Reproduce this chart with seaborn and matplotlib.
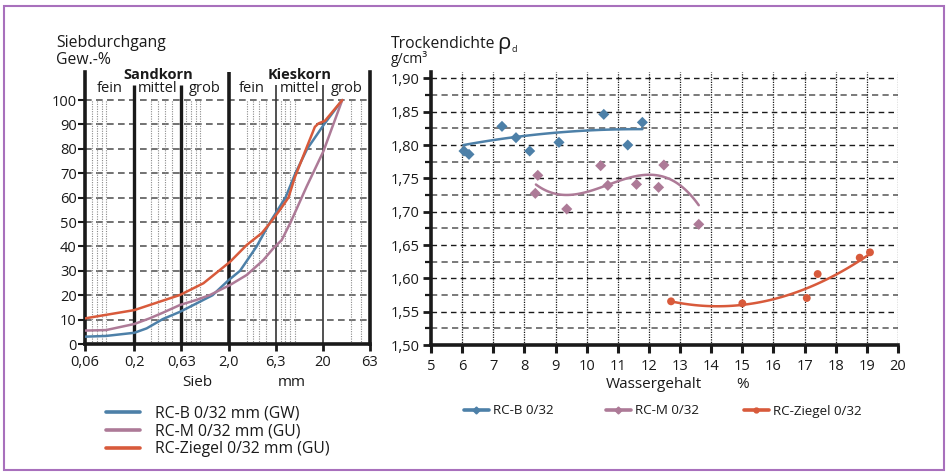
import numpy as np
import pandas as pd
import matplotlib
matplotlib.use("Agg")
import matplotlib.pyplot as plt
from matplotlib.lines import Line2D
from matplotlib.patches import Rectangle
from matplotlib.ticker import NullLocator, FixedLocator
import seaborn as sns

# ---------------- data: sieve curves (left) ----------------
rcb_sieve_x = [0.06, 0.1, 0.2, 0.27, 0.4, 0.61, 0.92, 1.35, 2.0, 2.64, 3.96, 5.5, 8.0, 10.2, 13.6, 20.5, 32]
rcb_sieve_y = [3.0, 3.3, 4.6, 6.4, 10.2, 13.2, 16.7, 20.0, 26.2, 30.0, 40.0, 50.0, 60.0, 70.0, 80.0, 90.0, 100]
rcm_sieve_x = [0.06, 0.1, 0.2, 0.29, 0.4, 0.61, 0.9, 1.27, 2.07, 3.11, 4.66, 5.94, 7.3, 9.1, 13.4, 20.2, 32]
rcm_sieve_y = [5.5, 5.7, 8.2, 10.5, 12.8, 16.0, 18.0, 20.1, 24.2, 28.3, 34.4, 39.2, 42.6, 50.0, 64.5, 79.0, 100]
rcz_sieve_x = [0.06, 0.2, 0.61, 1.08, 2.07, 3.11, 4.5, 5.6, 7.0, 8.6, 10.1, 13.4, 16.4, 17.9, 21, 32]
rcz_sieve_y = [10.5, 13.9, 20.1, 24.9, 33.7, 40.6, 45.5, 50.0, 55.0, 60.0, 68.5, 80.5, 89.0, 90.4, 91.5, 100]

sieve_ticks = [0.06, 0.2, 0.63, 2.0, 6.3, 20, 63]
sieve_tick_labels = ["0,06", "0,2", "0,63", "2,0", "6,3", "20", "63"]
minor_sieves = [0.071, 0.08, 0.09, 0.1, 0.3, 0.36, 0.42, 0.5, 0.71, 0.8, 0.9, 1.0,
                3.15, 3.6, 4.2, 5.0, 7.1, 8.0, 9.0, 10.0, 40, 50]
sieve_labels = ["RC-B 0/32 mm (GW)", "RC-M 0/32 mm (GU)", "RC-Ziegel 0/32 mm (GU)"]

# ---------------- data: Proctor (right) ----------------
rcb_w = [6.06, 6.22, 7.28, 7.73, 8.17, 9.11, 10.55, 11.32, 11.79]
rcb_rho = [1.791, 1.786, 1.828, 1.811, 1.791, 1.804, 1.846, 1.800, 1.834]
rcm_w = [8.35, 8.43, 9.36, 10.45, 10.68, 11.60, 12.31, 12.48, 13.60]
rcm_rho = [1.7275, 1.7545, 1.704, 1.769, 1.7395, 1.741, 1.7365, 1.770, 1.681]
rcz_w = [12.71, 15.0, 17.07, 17.42, 18.77, 19.1]
rcz_rho = [1.5655, 1.5625, 1.5705, 1.6065, 1.631, 1.639]

# trend lines
rcb_trend_w = [6.04, 7.0, 7.73, 8.72, 9.79, 10.8, 11.79]
rcb_trend_rho = [1.800, 1.807, 1.8125, 1.8175, 1.821, 1.823, 1.824]
rcm_trend_w = [8.37, 9.3, 10.33, 10.86, 11.71, 12.03, 12.78, 13.21, 13.6]
rcm_trend_rho = [1.741, 1.725, 1.7325, 1.745, 1.755, 1.756, 1.745, 1.730, 1.711]
rcz_trend_w = [12.71, 14.18, 15.0, 17.07, 18.0, 19.1]
rcz_trend_rho = [1.5655, 1.5575, 1.561, 1.585, 1.605, 1.637]

proctor_labels = ["RC-B 0/32", "RC-M 0/32", "RC-Ziegel 0/32"]

c_b = "#4d80a8"
c_m = "#ad7a97"
c_z = "#d85a3b"
colors = [c_b, c_m, c_z]

sns.set_theme(style="white")
plt.rcParams["font.family"] = ["Open Sans", "DejaVu Sans"]
plt.rcParams["text.color"] = "#1a1a1a"
plt.rcParams["xtick.color"] = "#1a1a1a"
plt.rcParams["ytick.color"] = "#1a1a1a"

W, H = 948, 475
fig = plt.figure(figsize=(W / 100, H / 100), dpi=100)


def rect(x0, y0, x1, y1):
    return [x0 / W, 1 - y1 / H, (x1 - x0) / W, (y1 - y0) / H]


def fx(x):
    return x / W


def fy(y):
    return 1 - y / H


# ======================= left chart ==========================
ax1 = fig.add_axes(rect(85, 72, 370, 344))
ax1.set_xscale("log")
ax1.set_xlim(0.06, 63)
ax1.set_ylim(0, 111.5)

for v in range(10, 101, 10):
    ax1.plot([0.06, 63], [v, v], color="#5a5a5a", lw=1.2, ls=(0, (4, 2.6)), zorder=1)
ax1.vlines(minor_sieves, 0, 100, colors="#8a8a8a", lw=0.8, linestyles=(0, (1, 1.2)), zorder=1)
ax1.vlines([0.2, 0.63], 0, 106.3, colors="#1a1a1a", lw=2.4, zorder=2)
ax1.vlines([2.0], 0, 111.5, colors="#1a1a1a", lw=2.6, zorder=2)
ax1.vlines([6.3, 20], 0, 106.3, colors="#333333", lw=1.2, zorder=2)

sieve_df = pd.concat([
    pd.DataFrame({"d": rcb_sieve_x, "p": rcb_sieve_y, "s": sieve_labels[0]}),
    pd.DataFrame({"d": rcm_sieve_x, "p": rcm_sieve_y, "s": sieve_labels[1]}),
    pd.DataFrame({"d": rcz_sieve_x, "p": rcz_sieve_y, "s": sieve_labels[2]}),
])
sns.lineplot(data=sieve_df, x="d", y="p", hue="s", palette=colors, hue_order=sieve_labels,
             estimator=None, sort=False, lw=1.8, ax=ax1, legend=False, zorder=3)

for s in ["left", "bottom", "right"]:
    ax1.spines[s].set_linewidth(2.6)
    ax1.spines[s].set_color("#1a1a1a")
ax1.spines["top"].set_visible(False)

ax1.set_xticks(sieve_ticks)
ax1.set_xticklabels(sieve_tick_labels, fontsize=10.5)
ax1.xaxis.set_minor_locator(NullLocator())
ax1.set_yticks(range(0, 101, 10))
ax1.set_yticklabels([str(v) for v in range(0, 101, 10)], fontsize=10.5)
ax1.tick_params(axis="x", length=5, width=2, pad=3, direction="out", bottom=True)
ax1.tick_params(axis="y", length=5, width=1.5, pad=1, direction="out", left=True)
ax1.set_xlabel("")
ax1.set_ylabel("")

for xc, t in [(0.11, "fein"), (0.355, "mittel"), (1.12, "grob"),
              (3.55, "fein"), (11.2, "mittel"), (35.5, "grob")]:
    ax1.text(xc, 104.9, t, ha="center", va="center", fontsize=10.5, clip_on=False)
ax1.text(0.355, 110.2, "Sandkorn", ha="center", va="center", fontsize=10.5, fontweight="bold", clip_on=False)
ax1.text(11.2, 110.2, "Kieskorn", ha="center", va="center", fontsize=10.5, fontweight="bold", clip_on=False)

fig.text(fx(56), fy(43), "Siebdurchgang", fontsize=11.3, va="center", ha="left")
fig.text(fx(56), fy(60), "Gew.-%", fontsize=11.3, va="center", ha="left")
fig.text(fx(197), fy(383), "Sieb", fontsize=11, va="center", ha="center")
fig.text(fx(292), fy(383), "mm", fontsize=11, va="center", ha="center")

h_left = [Line2D([], [], color=c, lw=2.6) for c in colors]
fig.legend(h_left, sieve_labels, loc="upper left", bbox_to_anchor=(fx(106), fy(405.5)),
           frameon=False, borderpad=0, borderaxespad=0, labelspacing=0.12,
           handlelength=2.15, handletextpad=0.95, fontsize=11.3)

# ======================= right chart ==========================
ax2 = fig.add_axes(rect(431, 71.7, 898, 345))
ax2.set_xlim(5, 20)
ax2.set_ylim(1.50, 1.91)

for k in range(1, 17):
    v = 1.50 + 0.025 * k
    if k % 2 == 0:
        ax2.plot([5, 20], [v, v], color="#1a1a1a", lw=1.0, ls=(0, (4, 3)), zorder=1)
    else:
        ax2.plot([5, 20], [v, v], color="#7a7a7a", lw=1.4, ls=(0, (3.2, 2.2)), zorder=1)
ax2.vlines(range(6, 21), 1.50, 1.91, colors="#1a1a1a", lw=0.9, linestyles=(0, (1, 1)), zorder=1)

proc_df = pd.concat([
    pd.DataFrame({"w": rcb_w, "r": rcb_rho, "s": proctor_labels[0]}),
    pd.DataFrame({"w": rcm_w, "r": rcm_rho, "s": proctor_labels[1]}),
    pd.DataFrame({"w": rcz_w, "r": rcz_rho, "s": proctor_labels[2]}),
])
sns.scatterplot(data=proc_df, x="w", y="r", hue="s", style="s", palette=colors,
                hue_order=proctor_labels, style_order=proctor_labels,
                markers={proctor_labels[0]: "D", proctor_labels[1]: "D", proctor_labels[2]: "o"},
                s=32, linewidth=0, ax=ax2, legend=False, zorder=4)

for tw, tr, c, order in [(rcb_trend_w, rcb_trend_rho, c_b, 2),
                         (rcm_trend_w, rcm_trend_rho, c_m, 3),
                         (rcz_trend_w, rcz_trend_rho, c_z, 2)]:
    sns.regplot(x=tw, y=tr, order=order, ci=None, scatter=False, truncate=True,
                line_kws={"color": c, "lw": 1.8, "zorder": 3}, ax=ax2)
ax2.set_xlim(5, 20)
ax2.set_ylim(1.50, 1.91)

for s in ["left", "bottom"]:
    ax2.spines[s].set_linewidth(2.6)
    ax2.spines[s].set_color("#1a1a1a")
ax2.spines["top"].set_visible(False)
ax2.spines["right"].set_visible(False)

ax2.set_xticks(range(5, 21))
ax2.set_xticklabels([str(v) for v in range(5, 21)], fontsize=10.5)
yt = [1.50 + 0.05 * i for i in range(9)]
ax2.set_yticks(yt)
ax2.set_yticklabels([f"{v:.2f}".replace(".", ",") for v in yt], fontsize=10.5)
ax2.yaxis.set_minor_locator(FixedLocator([1.525 + 0.05 * i for i in range(8)]))
ax2.tick_params(axis="x", length=6, width=2.2, pad=4, direction="out", bottom=True)
ax2.tick_params(axis="y", which="major", length=6, width=2, pad=2, direction="out", left=True)
ax2.tick_params(axis="y", which="minor", length=4, width=1.6, direction="out", left=True)
ax2.set_xlabel("")
ax2.set_ylabel("")

fig.text(fx(391), fy(44), "Trockendichte", fontsize=11.3, va="center", ha="left")
fig.text(fx(497), fy(43), "ρ", fontsize=16, va="center", ha="left")
fig.text(fx(512), fy(50), "d", fontsize=6.5, va="center", ha="left")
fig.text(fx(391), fy(59), "g/cm³", fontsize=10, va="center", ha="left")
fig.text(fx(654), fy(384), "Wassergehalt", fontsize=11, va="center", ha="center")
fig.text(fx(743), fy(384), "%", fontsize=11, va="center", ha="center")

for c, lab, x0, mk in zip(colors, proctor_labels, [464, 606, 744], ["D", "D", "o"]):
    h = Line2D([], [], color=c, lw=2.6, marker=mk, markersize=3.5)
    fig.legend([h], [lab], loc="center left", bbox_to_anchor=(fx(x0), fy(411)),
               frameon=False, borderpad=0, borderaxespad=0, handlelength=1.85,
               handletextpad=0.32, fontsize=9.6)

fig.patches.append(Rectangle((fx(4), fy(470)), (944 - 4) / W, (470 - 6) / H,
                             transform=fig.transFigure, fill=False, ec="#a870bc", lw=1.5))

fig.savefig("out.png", dpi=100)
